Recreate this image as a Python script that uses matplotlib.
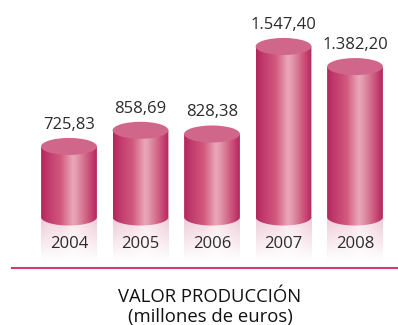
import numpy as np
import matplotlib
matplotlib.use("Agg")
import matplotlib.pyplot as plt
from matplotlib.colors import LinearSegmentedColormap
from matplotlib.patches import Ellipse, PathPatch
from matplotlib.path import Path

# Data
years = ["2004", "2005", "2006", "2007", "2008"]
values = [725.83, 858.69, 828.38, 1547.40, 1382.20]
value_labels = ["725,83", "858,69", "828,38", "1.547,40", "1.382,20"]
title_lines = ["VALOR PRODUCCIÓN", "(millones de euros)"]

plt.rcParams["font.family"] = ["Open Sans", "DejaVu Sans"]

W, H, DPI = 398, 325, 100
fig = plt.figure(figsize=(W / DPI, H / DPI), dpi=DPI)
ax = fig.add_axes([33.25 / W, 0, 357.5 / W, 1])
ax.set_xlim(-0.5, len(years) - 0.5)
ax.set_ylim(-741, 1929)
ax.axis("off")

units_per_px = (1929 + 741) / H
floor = 146                       # level where the cylinders rest
cyl_w = 0.78                      # cylinder width in category units
ell_h = 17 * units_per_px         # height of the end ellipses
refl_h = 46 * units_per_px        # depth of the reflection

body_cmap = LinearSegmentedColormap.from_list("body", [
    (0.00, "#b2265c"), (0.12, "#c03a6b"), (0.35, "#d2587e"),
    (0.57, "#e9a7b9"), (0.63, "#e39db1"), (0.80, "#d26587"),
    (0.93, "#c23a6c"), (1.00, "#b0265c")])
top_color = "#d0678a"

grad = np.linspace(0, 1, 256)[None, :]


def body_path(xc, top, bottom):
    t = np.linspace(np.pi, 2 * np.pi, 60)
    arc_x = xc + cyl_w / 2 * np.cos(t)
    arc_y = bottom + ell_h / 2 * np.sin(t)
    xs = np.concatenate([[xc - cyl_w / 2], arc_x, [xc + cyl_w / 2, xc - cyl_w / 2]])
    ys = np.concatenate([[top], arc_y, [top, top]])
    return Path(np.column_stack([xs, ys]), closed=True)


for i, (v, lab, yr) in enumerate(zip(values, value_labels, years)):
    x0, x1 = i - cyl_w / 2, i + cyl_w / 2

    # pale reflection below the cylinder, fading to white
    base_rgb = body_cmap(grad[0])[:, :3]
    refl = np.ones((64, 256, 4))
    fade = np.linspace(0.45, 0.0, 64)[:, None] ** 1.1
    refl[:, :, :3] = base_rgb[None, :, :] * 0.6 + 0.4
    refl[:, :, 3] = fade
    ax.imshow(refl, extent=(x0, x1, floor - refl_h, floor), origin="upper",
              aspect="auto", interpolation="bilinear", zorder=1)

    # shaded body
    patch = PathPatch(body_path(i, v, floor), facecolor="none", edgecolor="none")
    ax.add_patch(patch)
    img = ax.imshow(grad, cmap=body_cmap, extent=(x0, x1, floor - ell_h / 2, v),
                    aspect="auto", interpolation="bilinear", zorder=2)
    img.set_clip_path(patch)

    # top face
    ax.add_patch(Ellipse((i, v), cyl_w, ell_h, facecolor=top_color,
                         edgecolor="none", zorder=3))

    ax.annotate(lab, (i, v), xytext=(0, 8.5 + 13), textcoords="offset pixels",
                ha="center", va="center", fontsize=12, color="#2b2b2b")
    ax.annotate(yr, (i, floor), xytext=(0, -27), textcoords="offset pixels",
                ha="center", va="center", fontsize=12, color="#2b2b2b")

# baseline rule
fig.add_artist(plt.Line2D([12 / W, 1], [1 - 268 / H, 1 - 268 / H],
                          color="#d23a72", lw=1.5))

fig.text(210 / W, 1 - 297 / H, title_lines[0], ha="center", va="center",
         fontsize=13.3, color="#111111")
fig.text(210 / W, 1 - 317 / H, title_lines[1], ha="center", va="center",
         fontsize=13.3, color="#111111")

fig.savefig("out.png", dpi=DPI, facecolor="white")
